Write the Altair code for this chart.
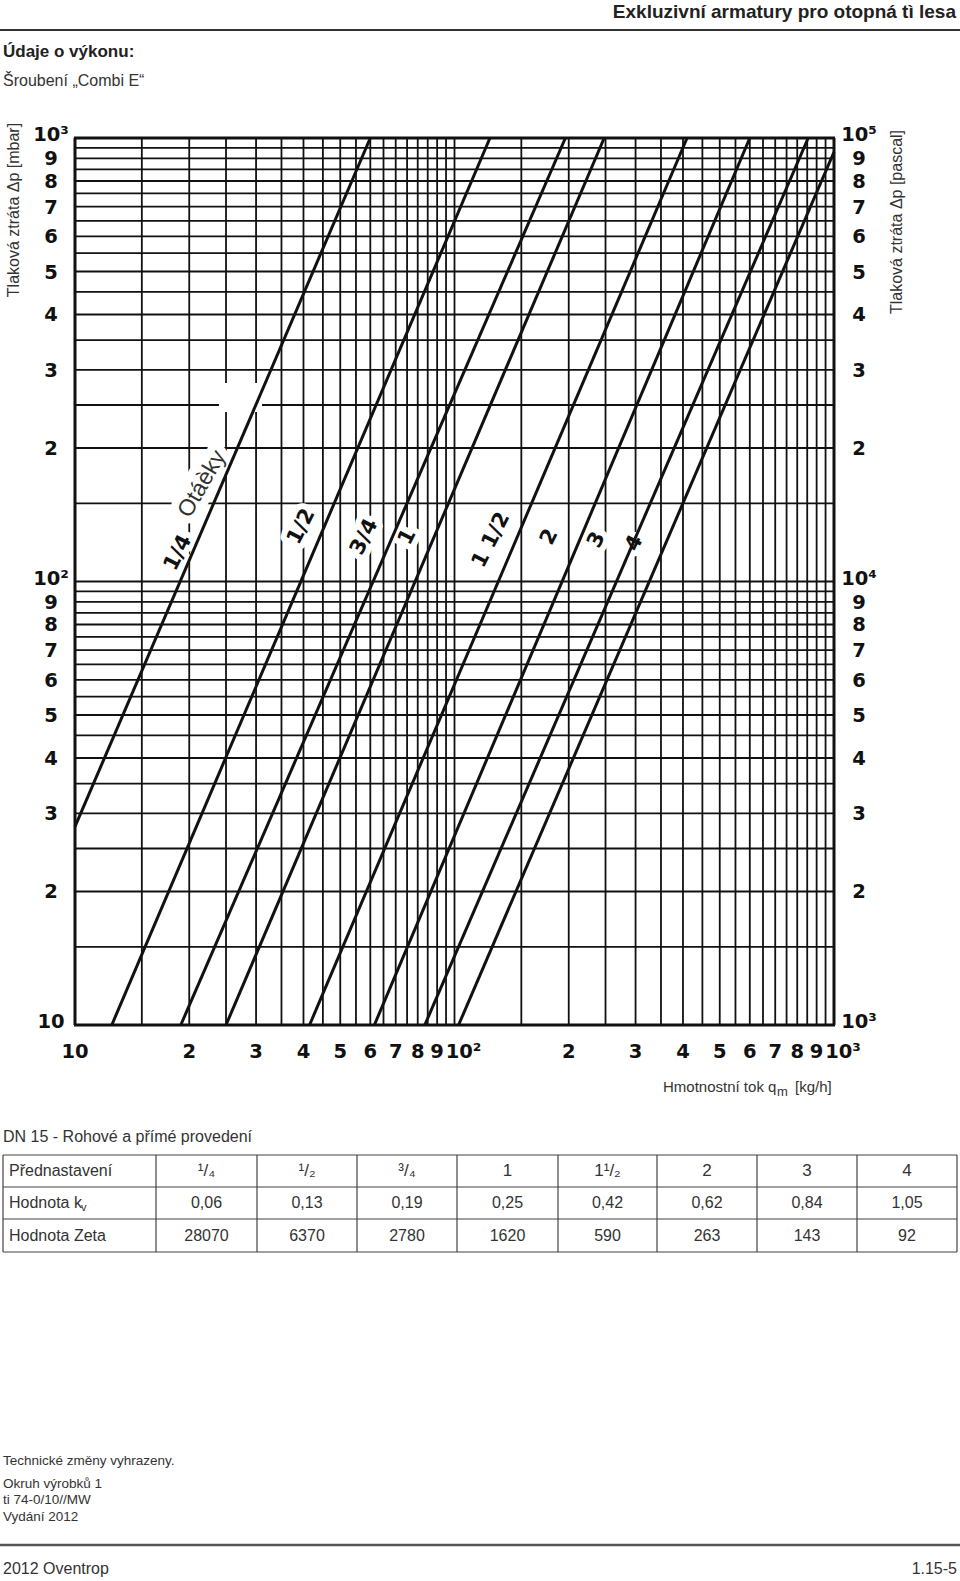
import altair as alt
import pandas as pd

# ---------------- data ----------------
# grid values of the log-log diagram
q_grid = [10, 15, 20, 25, 30, 35, 40, 45, 50, 55, 60, 65, 70, 75, 80, 85, 90, 95, 100,
          150, 200, 250, 300, 350, 400, 450, 500, 550, 600, 650, 700, 750, 800, 850, 900, 950, 1000]
dp_grid = [10, 15, 20, 25, 30, 35, 40, 45, 50, 55, 60, 65, 70, 75, 80, 85, 90, 95, 100,
           150, 200, 250, 300, 350, 400, 450, 500, 550, 600, 650, 700, 750, 800, 850, 900, 950, 1000]

# characteristic lines (pre-settings), start and end points
settings = ["1/4", "1/2", "3/4", "1", "1 1/2", "2", "3", "4"]
q_start = [10, 12.5, 19, 25, 41.5, 61.5, 83.5, 102.5]
dp_start = [28, 10, 10, 10, 10, 10, 10, 10]
q_end = [60, 124, 196, 248, 410, 600, 855, 1000]
dp_end = [1000, 1000, 1000, 1000, 1000, 1000, 1000, 930]

# label anchor positions (in data units)
label_q = [18.7, 39.5, 57.9, 75.2, 125, 178, 237, 298]
label_dp = [116, 133, 126, 126, 124, 126, 124, 122]
otacky_q, otacky_dp = [21.6], [166]

# tick labels
left_vals = [900, 800, 700, 600, 500, 400, 300, 200, 90, 80, 70, 60, 50, 40, 30, 20]
left_text = ["9", "8", "7", "6", "5", "4", "3", "2", "9", "8", "7", "6", "5", "4", "3", "2"]
left_dec_vals = [1000, 100, 10]
left_dec_text = ["10³", "10²", "10"]
right_dec_text = ["10⁵", "10⁴", "10³"]
bottom_vals = [10, 20, 30, 40, 50, 60, 70, 80, 90, 200, 300, 400, 500, 600, 700, 800, 900]
bottom_text = ["10", "2", "3", "4", "5", "6", "7", "8", "9", "2", "3", "4", "5", "6", "7", "8", "9"]
bottom_dec_vals = [100, 1000]
bottom_dec_text = ["10²", "10³"]

# table
table_presets = ["¹/₄", "¹/₂", "³/₄", "1", "1¹/₂", "2", "3", "4"]
table_kv = ["0,06", "0,13", "0,19", "0,25", "0,42", "0,62", "0,84", "1,05"]
table_zeta = ["28070", "6370", "2780", "1620", "590", "263", "143", "92"]

# ---------------- layout ----------------
W, H = 960, 1581
X0, X1 = 75, 834
Y0, Y1 = 1025, 138
SANS = "Liberation Sans, Arial, Helvetica, sans-serif"
TECH = "DejaVu Sans, sans-serif"
INK = "#111111"
GREY = "#333333"

xs = alt.Scale(type="log", domain=[10, 1000], range=[X0, X1], nice=False)
ys = alt.Scale(type="log", domain=[10, 1000], range=[Y0, Y1], nice=False)


def one():
    return pd.DataFrame({"a": [0]})


def txt(s, x, y, size=15, weight="normal", align="left", baseline="middle",
        angle=None, color=GREY, font=SANS):
    props = dict(font=font, fontSize=size, fontWeight=weight, align=align,
                 baseline=baseline, color=color)
    if angle is not None:
        props["angle"] = angle
    return alt.Chart(pd.DataFrame({"t": [s]})).mark_text(**props).encode(
        x=alt.value(x), y=alt.value(y), text="t:N")


def rule(x1, y1, x2, y2, w=1.0, color="#333333"):
    return alt.Chart(one()).mark_rule(color=color, strokeWidth=w).encode(
        x=alt.value(x1), x2=alt.value(x2), y=alt.value(y1), y2=alt.value(y2))


layers = []

# grid
vgrid = alt.Chart(pd.DataFrame({"q": q_grid})).mark_rule(color=INK, strokeWidth=1.8).encode(
    x=alt.X("q:Q", scale=xs, axis=None), y=alt.value(Y1), y2=alt.value(Y0))
hgrid = alt.Chart(pd.DataFrame({"dp": dp_grid})).mark_rule(color=INK, strokeWidth=1.8).encode(
    y=alt.Y("dp:Q", scale=ys, axis=None), x=alt.value(X0), x2=alt.value(X1))
vborder = alt.Chart(pd.DataFrame({"q": [10, 1000]})).mark_rule(color=INK, strokeWidth=3).encode(
    x=alt.X("q:Q", scale=xs, axis=None), y=alt.value(Y1), y2=alt.value(Y0))
hborder = alt.Chart(pd.DataFrame({"dp": [10, 1000]})).mark_rule(color=INK, strokeWidth=3).encode(
    y=alt.Y("dp:Q", scale=ys, axis=None), x=alt.value(X0 - 1), x2=alt.value(X1 + 1))
layers += [vgrid, hgrid, vborder, hborder]

# erased patch in the grid
layers.append(alt.Chart(one()).mark_rect(color="white").encode(
    x=alt.value(219), x2=alt.value(262), y=alt.value(383), y2=alt.value(412)))

# label halos
lab_df = pd.DataFrame({"setting": settings, "q": label_q, "dp": label_dp})
ot_df = pd.DataFrame({"t": ["Otáèky"], "q": otacky_q, "dp": otacky_dp})
layers.append(alt.Chart(ot_df).mark_text(font=SANS, fontSize=23, angle=300, fill="white",
                                         stroke="white", strokeWidth=16, strokeJoin="round").encode(
    x=alt.X("q:Q", scale=xs, axis=None), y=alt.Y("dp:Q", scale=ys, axis=None), text="t:N"))
layers.append(alt.Chart(lab_df).mark_text(font=TECH, fontSize=21, fontWeight="bold", angle=297,
                                          fill="white", stroke="white", strokeWidth=12,
                                          strokeJoin="round").encode(
    x=alt.X("q:Q", scale=xs, axis=None), y=alt.Y("dp:Q", scale=ys, axis=None), text="setting:N"))

# characteristic lines
ldf = pd.DataFrame({"setting": settings + settings, "q": q_start + q_end, "dp": dp_start + dp_end})
layers.append(alt.Chart(ldf).mark_line(color=INK, strokeWidth=3).encode(
    x=alt.X("q:Q", scale=xs, axis=None), y=alt.Y("dp:Q", scale=ys, axis=None),
    detail="setting:N"))

# labels
layers.append(alt.Chart(ot_df).mark_text(font=SANS, fontSize=23, angle=300, color=GREY).encode(
    x=alt.X("q:Q", scale=xs, axis=None), y=alt.Y("dp:Q", scale=ys, axis=None), text="t:N"))
layers.append(alt.Chart(lab_df).mark_text(font=TECH, fontSize=21, fontWeight="bold", angle=297,
                                          color=INK).encode(
    x=alt.X("q:Q", scale=xs, axis=None), y=alt.Y("dp:Q", scale=ys, axis=None), text="setting:N"))

# tick labels
tick_props = dict(font=TECH, fontSize=19.5, fontWeight="bold", color=INK, align="center", baseline="middle")
ldf_ticks = pd.DataFrame({"dp": left_vals, "t": left_text})
layers.append(alt.Chart(ldf_ticks).mark_text(dy=1, **tick_props).encode(
    y=alt.Y("dp:Q", scale=ys, axis=None), x=alt.value(51), text="t:N"))
layers.append(alt.Chart(ldf_ticks).mark_text(dy=1, **tick_props).encode(
    y=alt.Y("dp:Q", scale=ys, axis=None), x=alt.value(859), text="t:N"))
ldec = pd.DataFrame({"dp": left_dec_vals, "t": left_dec_text, "r": right_dec_text})
layers.append(alt.Chart(ldec).mark_text(dy=-3, **tick_props).encode(
    y=alt.Y("dp:Q", scale=ys, axis=None), x=alt.value(51), text="t:N"))
layers.append(alt.Chart(ldec).mark_text(dy=-3, **tick_props).encode(
    y=alt.Y("dp:Q", scale=ys, axis=None), x=alt.value(859), text="r:N"))
bdf = pd.DataFrame({"q": bottom_vals, "t": bottom_text})
layers.append(alt.Chart(bdf).mark_text(**tick_props).encode(
    x=alt.X("q:Q", scale=xs, axis=None), y=alt.value(1052), text="t:N"))
bdec = pd.DataFrame({"q": bottom_dec_vals, "t": bottom_dec_text})
layers.append(alt.Chart(bdec).mark_text(dx=9, **tick_props).encode(
    x=alt.X("q:Q", scale=xs, axis=None), y=alt.value(1052), text="t:N"))

# axis titles
layers.append(txt("Tlaková ztráta Δp [mbar]", 14, 210, size=16, align="center", angle=270))
layers.append(txt("Tlaková ztráta Δp [pascal]", 897, 222, size=16, align="center", angle=270))
layers.append(txt("Hmotnostní tok q", 663, 1087, size=15))
layers.append(txt("m", 777, 1092, size=13))
layers.append(txt("[kg/h]", 795, 1087, size=15))

# header
layers.append(txt("Exkluzivní armatury pro otopná tì lesa", 956, 12, size=19, weight="bold",
                  align="right", color="#222222"))
layers.append(rule(0, 30, 960, 30, w=2.2, color="#333333"))
layers.append(txt("Údaje o výkonu:", 3, 52, size=17, weight="bold", color="#222222"))
layers.append(txt("Šroubení „Combi E“", 3, 81, size=16))

# table
layers.append(txt("DN 15  - Rohové a přímé provedení", 3, 1137, size=16))
row_y = [1155, 1187, 1219, 1252]
col_x = [3, 156, 257, 357, 457, 558, 657, 757, 857, 957]
for yy in row_y:
    layers.append(rule(col_x[0], yy, col_x[-1], yy, w=1.2, color="#444444"))
for xx in col_x:
    layers.append(rule(xx, row_y[0], xx, row_y[-1], w=1.2, color="#444444"))
centers = [(col_x[i] + col_x[i + 1]) / 2 for i in range(1, len(col_x) - 1)]
row_c = [(row_y[i] + row_y[i + 1]) / 2 for i in range(3)]
layers.append(txt("Přednastavení", 9, row_c[0], size=16))
layers.append(txt("Hodnota k", 9, row_c[1], size=16))
layers.append(txt("v", 81, row_c[1] + 5, size=11))
layers.append(txt("Hodnota Zeta", 9, row_c[2], size=16))
for cx, p, k, z in zip(centers, table_presets, table_kv, table_zeta):
    layers.append(txt(p, cx, row_c[0], size=17, align="center"))
    layers.append(txt(k, cx, row_c[1], size=16, align="center"))
    layers.append(txt(z, cx, row_c[2], size=16, align="center"))

# footer
layers.append(txt("Technické změny vyhrazeny.", 3, 1461, size=13.5))
layers.append(txt("Okruh výrobků 1", 3, 1484, size=13.5))
layers.append(txt("ti 74-0/10//MW", 3, 1500, size=13.5))
layers.append(txt("Vydání 2012", 3, 1517, size=13.5))
layers.append(rule(0, 1545, 960, 1545, w=2.5, color="#555555"))
layers.append(txt("2012 Oventrop", 3, 1569, size=16))
layers.append(txt("1.15-5", 957, 1569, size=16, align="right"))

chart = alt.layer(*layers).properties(
    width=W, height=H, padding=0,
    autosize=alt.AutoSizeParams(type="none"),
    background="white",
).configure_view(stroke=None)

chart.save("out.html", embed_options={"renderer": "svg", "actions": False})
